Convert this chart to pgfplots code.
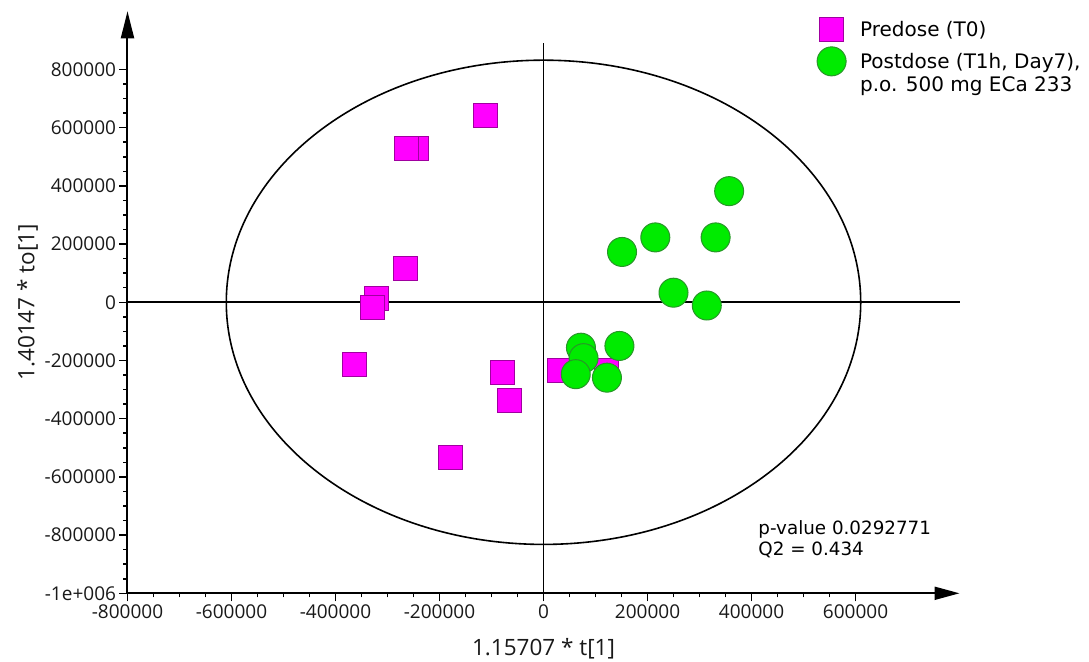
\documentclass[border=0pt]{standalone}
\usepackage{pgfplots}
\pgfplotsset{compat=1.18}
\usetikzlibrary{arrows.meta}
\usepackage{fontspec}
\setmainfont{DejaVu Sans}
\newfontfamily\tickfont{Open Sans}
\definecolor{magfill}{RGB}{255,0,255}
\definecolor{magedge}{RGB}{160,0,160}
\definecolor{grnfill}{RGB}{0,235,0}
\definecolor{grnedge}{RGB}{40,150,40}
\pgfplotsset{
  flatlegend/.style={legend image code/.code={\draw[##1] plot coordinates {(0pt,0pt)};}},
  raisedlegend/.style={legend image code/.code={\draw[##1] plot coordinates {(0pt,11.5pt)};}},
}
\begin{document}
\begin{tikzpicture}
\useasboundingbox (-127.5pt,-67.7pt) rectangle (961.5pt,593.3pt);
\begin{axis}[
  at={(0,0)}, anchor=south west,
  scale only axis, width=832pt, height=582pt,
  xmin=-800000, xmax=800000, ymin=-1000000, ymax=1000000,
  axis lines=left,
  axis line style={line width=2pt},
  x axis line style={-{Triangle[length=25pt,width=13pt]}},
  y axis line style={-{Triangle[length=27pt,width=13pt]}},
  xtick={-800000,-600000,-400000,-200000,0,200000,400000,600000},
  xticklabels={-800000,-600000,-400000,-200000,0,200000,400000,600000},
  ytick={-1000000,-800000,-600000,-400000,-200000,0,200000,400000,600000,800000},
  yticklabels={-1e+006,-800000,-600000,-400000,-200000,0,200000,400000,600000,800000},
  minor x tick num=3, minor y tick num=3,
  tick align=outside,
  major tick length=8pt, minor tick length=4pt,
  tick style={line width=1.5pt, black},
  ticklabel style={font=\tickfont\fontsize{19}{22}\selectfont, text=black!90},
  scaled ticks=false,
  xlabel={1.15707 * t[1]},
  ylabel={1.40147 * to[1]},
  label style={font=\tickfont\fontsize{22.5}{26}\selectfont, text=black!90},
  x label style={at={(axis description cs:0.5,-0.0945)}, anchor=center},
  y label style={at={(axis description cs:-0.12,0.5)}, anchor=center, rotate=0},
  clip=false,
  legend style={draw=none, fill=none, at={(axis cs:520000,985000)}, anchor=north west,
    font=\fontsize{20}{23}\selectfont, row sep=5pt, column sep=12pt},
  legend cell align=left,
  legend style={cells={align=left}},
]
\draw[line width=1.8pt] (axis cs:-800000,0) -- (axis cs:800000,0);
\draw[line width=1.8pt] (axis cs:0,-1000000) -- (axis cs:0,890000);
\draw[line width=1.6pt] (axis cs:0,0) ellipse [x radius=610000, y radius=832000];
\addplot[only marks, mark=square*, mark size=12pt, flatlegend,
  mark options={fill=magfill, draw=magedge, line width=0.8pt}] coordinates {
(-112000,642000)
(-244000,529000)
(-264000,529000)
(-265000,116000)
(-322000,14000)
(-329000,-17000)
(-364000,-215000)
(-80000,-240000)
(-66500,-336000)
(31000,-234000)
(120000,-234000)
(-179000,-533000)
};
\addlegendentry{Predose (T0)}
\addplot[only marks, mark=*, mark size=14.5pt, raisedlegend,
  mark options={fill=grnfill, draw=grnedge, line width=1pt}] coordinates {
(357000,382000)
(215000,223000)
(331000,223000)
(151000,173000)
(250000,33000)
(314000,-11000)
(146000,-150000)
(72000,-156000)
(77000,-192000)
(62000,-247000)
(122000,-259000)
};
\addlegendentry{Postdose (T1h, Day7),\\p.o. 500 mg ECa 233}
\node[anchor=west, align=left, font=\fontsize{18.3}{21}\selectfont, inner sep=0pt]
  at (axis cs:413000,-815000) {p-value 0.0292771\\Q2 = 0.434};
\end{axis}
\end{tikzpicture}
\end{document}
